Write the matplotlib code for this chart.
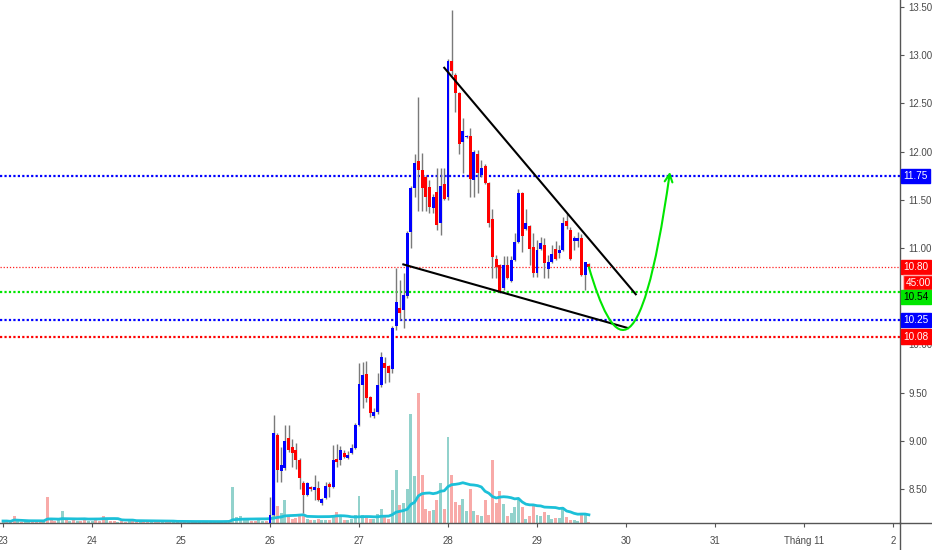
import matplotlib
matplotlib.use('Agg')
import matplotlib.pyplot as plt
import numpy as np
import pandas as pd
from matplotlib.path import Path
from matplotlib.patches import FancyArrowPatch

plt.rcParams['font.family'] = ['Liberation Sans', 'DejaVu Sans']

# hourly candles from day 26 on
opens = [8.14, 8.23, 9.06, 8.69, 8.72, 9.03, 8.94, 8.90, 8.80, 8.56,
         8.44, 8.52, 8.49, 8.51, 8.35, 8.41, 8.55, 8.52, 8.81, 8.80,
         8.87, 8.82, 8.87, 8.92, 9.16, 9.58, 9.69, 9.45, 9.26, 9.30,
         9.58, 9.81, 9.78, 9.74, 10.19, 10.38, 10.36, 10.50, 11.17, 11.62,
         11.90, 11.81, 11.74, 11.63, 11.41, 11.58, 11.26, 11.66, 11.53, 12.94,
         12.80, 12.61, 12.10, 12.15, 12.16, 11.71, 11.98, 11.76, 11.85, 11.67,
         11.30, 10.89, 10.82, 10.59, 10.82, 10.66, 10.88, 11.06, 11.57, 11.20,
         11.23, 11.01, 10.74, 10.99, 11.03, 10.78, 10.85, 10.99, 10.95, 10.98,
         11.28, 11.19, 11.07, 11.07, 11.10, 10.72, 10.83]
closes = [8.23, 9.08, 8.70, 8.75, 9.00, 8.90, 8.87, 8.80, 8.61, 8.44,
          8.56, 8.50, 8.52, 8.39, 8.40, 8.53, 8.52, 8.80, 8.78, 8.90,
          8.83, 8.85, 8.92, 9.16, 9.59, 9.68, 9.44, 9.29, 9.30, 9.58,
          9.87, 9.75, 9.70, 10.17, 10.44, 10.33, 10.51, 11.16, 11.62, 11.88,
          11.81, 11.62, 11.53, 11.43, 11.53, 11.24, 11.64, 11.51, 12.94, 12.84,
          12.61, 12.08, 12.21, 12.16, 11.72, 12.00, 11.78, 11.83, 11.67, 11.26,
          10.91, 10.80, 10.54, 10.82, 10.69, 10.88, 11.06, 11.57, 11.12, 11.26,
          10.99, 10.74, 10.98, 11.05, 10.84, 10.85, 10.94, 10.89, 10.98, 11.26,
          11.23, 10.89, 11.10, 11.10, 10.72, 10.85, 10.80]
highs = [8.42, 9.27, 9.08, 8.94, 9.16, 9.16, 9.02, 8.98, 8.82, 8.58,
         8.57, 8.53, 8.64, 8.58, 8.41, 8.57, 8.57, 8.96, 8.97, 8.95,
         8.90, 8.89, 8.97, 9.18, 9.81, 9.82, 9.83, 9.46, 9.34, 9.70,
         9.92, 9.87, 9.79, 10.19, 10.79, 10.67, 10.74, 11.18, 11.64, 11.98,
         12.57, 11.99, 11.76, 11.71, 11.56, 11.83, 11.83, 11.83, 12.96, 13.47,
         12.82, 12.62, 12.35, 12.17, 12.25, 12.02, 12.02, 11.91, 11.87, 11.68,
         11.40, 10.93, 10.83, 10.92, 10.92, 10.92, 11.16, 11.61, 11.58, 11.40,
         11.24, 11.16, 11.08, 11.11, 11.10, 10.93, 11.03, 11.07, 11.03, 11.32,
         11.36, 11.22, 11.12, 11.17, 11.15, 10.86, 10.84]
lows = [8.10, 8.22, 8.57, 8.57, 8.70, 8.88, 8.73, 8.71, 8.50, 8.25,
        8.43, 8.48, 8.39, 8.38, 8.33, 8.40, 8.42, 8.51, 8.73, 8.75,
        8.82, 8.81, 8.86, 8.91, 9.15, 9.34, 9.40, 9.25, 9.24, 9.28,
        9.56, 9.60, 9.61, 9.70, 10.15, 10.25, 10.17, 10.48, 11.00, 11.53,
        11.38, 11.38, 11.38, 11.36, 11.36, 11.19, 11.13, 11.50, 11.50, 12.80,
        12.41, 11.98, 11.78, 12.14, 11.53, 11.53, 11.57, 11.74, 11.66, 11.22,
        10.69, 10.69, 10.53, 10.56, 10.68, 10.65, 10.87, 11.05, 10.96, 11.19,
        10.82, 10.70, 10.70, 10.98, 10.69, 10.69, 10.84, 10.88, 10.90, 10.97,
        11.20, 10.88, 10.98, 11.01, 10.71, 10.56, 10.79]
cand_vol = [6, 10, 17, 10, 23, 6, 4, 5, 8, 9,
            4, 3, 3, 4, 3, 3, 3, 8, 11, 6,
            3, 3, 4, 8, 27, 8, 6, 4, 4, 9,
            14, 6, 4, 33, 53, 18, 20, 34, 109, 47,
            130, 48, 14, 12, 13, 23, 40, 14, 86, 48,
            21, 18, 24, 12, 34, 12, 8, 7, 23, 8,
            63, 20, 32, 19, 7, 10, 16, 23, 16, 4,
            7, 17, 8, 7, 11, 8, 4, 5, 5, 14,
            6, 3, 3, 2, 10, 10, 1]
# volume from day 23 to 26 (no visible candles)
pre_vol = [2, 2, 1, 7, 2, 1, 2, 1, 2, 2, 1, 3,
           26, 5, 2, 3, 12, 3, 2, 3, 2, 2, 3, 2,
           2, 3, 2, 7, 3, 2, 2, 1, 2, 1, 2, 2,
           1, 2, 1, 2, 2, 1, 2, 1, 1, 2, 1, 2,
           2, 1, 1, 2, 1, 2, 1, 1, 2, 1, 2, 1,
           2, 3, 36, 6, 7, 4, 3, 2, 2, 3, 2, 2]
pre_dir = ("uddduduudddu" "ddduudududdu" "udddudduddud"
           "duddudduddud" "ddudduduudud" "dduuuuudduud")

levels = [11.75, 10.54, 10.25, 10.08]
level_colors = ['#0000ff', '#00e600', '#0000ff', '#ff0000']
last_price = 10.80

# wedge lines (day, price)
upper_line = ([27.958, 30.11], [12.87, 10.52])
lower_line = ([27.498, 30.02], [10.83, 10.17])
# projected path: control points after the last candle, then the arrow tip
proj_days = [29.843, 30.157, 30.494]
proj_prices = [9.99, 9.58, 11.79]

day_ticks = list(range(23, 34))
day_labels = ['23', '24', '25', '26', '27', '28', '29', '30', '31', 'Tháng 11', '2']
price_ticks = [8.5, 9.0, 9.5, 10.0, 10.5, 11.0, 11.5, 12.0, 12.5, 13.0, 13.5]

n = len(opens)
t = 26 + np.arange(n) / 24
t_pre = 23 + np.arange(len(pre_vol)) / 24
o = np.array(opens); c = np.array(closes)
up = c >= o

fig = plt.figure(figsize=(9.32, 5.5), dpi=100)
ax = fig.add_axes([0, 27 / 550, 900 / 932, 523 / 550])
ax2 = ax.twinx()
ax.set_zorder(ax2.get_zorder() + 1)
ax.patch.set_visible(False)

# volume
vol = np.array(pre_vol + cand_vol, dtype=float)
tv = np.concatenate([t_pre, t])
vdir = [d == 'u' for d in pre_dir] + list(up)
vcol = ['#92d2cc' if d else '#f8aaa8' for d in vdir]
w = 0.8 / 24
ax2.bar(tv, vol, width=w, color=vcol, linewidth=0)
ma = pd.Series(vol).rolling(20, min_periods=1).mean()
ax2.plot(tv, ma, color='#1cc0d8', lw=2)
ax2.set_ylim(0, vol.max() * 4.02)
ax2.axis('off')

# candles
ax.vlines(t, lows, highs, color='#7a7a7a', lw=1, zorder=2)
body = np.maximum(np.abs(c - o), 0.01)
ax.bar(t, body, bottom=np.minimum(o, c), width=w,
       color=np.where(up, '#0000ff', '#ff0000'), linewidth=0, zorder=3)

# levels
for lv, col in zip(levels, level_colors):
    ax.axhline(lv, color=col, lw=1.6, ls=(0, (1, 1)), zorder=1)
ax.axhline(last_price, color='#ff2020', lw=0.9, ls=(0, (1, 1.5)), zorder=1)

ax.plot(*upper_line, color='black', lw=1.5, zorder=4)
ax.plot(*lower_line, color='black', lw=1.5, zorder=4)

verts = [(t[-1], closes[-1])] + list(zip(proj_days, proj_prices))
path = Path(verts, [Path.MOVETO, Path.CURVE4, Path.CURVE4, Path.CURVE4])
arrow = FancyArrowPatch(path=path, arrowstyle='->', mutation_scale=14,
                        color='#00e600', lw=1.5, shrinkA=0, shrinkB=0, zorder=5)
ax.add_patch(arrow)

ax.set_xlim(22.966, 33.079)
ax.set_ylim(8.147, 13.573)

ax.yaxis.tick_right()
ax.set_yticks(price_ticks)
ax.set_yticklabels(['%.2f' % p for p in price_ticks])
ax.set_xticks(day_ticks)
ax.set_xticklabels(day_labels)
ax.tick_params(axis='y', length=3, color='#555555', labelsize=7,
               labelcolor='#4a4a4a', pad=3)
ax.tick_params(axis='x', length=3, color='#555555', labelsize=7,
               labelcolor='#4a4a4a', pad=6)
for s in ['top', 'left']:
    ax.spines[s].set_visible(False)
for s in ['right', 'bottom']:
    ax.spines[s].set_color('#555555')
    ax.spines[s].set_linewidth(1)

fig.add_artist(plt.Line2D([900 / 932, 900 / 932], [0, 27 / 550], color='#555555', lw=1))
fig.add_artist(plt.Line2D([900 / 932, 1], [27 / 550, 27 / 550], color='#555555', lw=1))


def price_tag(val, text, bg, fg, dy=0, dx=2.5, edge=None):
    ax.annotate(text, xy=(1, val), xycoords=('axes fraction', 'data'),
                xytext=(dx, dy), textcoords='offset points', ha='left', va='center',
                fontsize=7.2, color=fg, annotation_clip=False, zorder=10,
                bbox=dict(boxstyle='square,pad=0.22', fc=bg, ec=edge or bg))


price_tag(11.75, '11.75', '#0000ff', 'white')
price_tag(last_price, '10.80', '#ff0000', 'white')
price_tag(last_price, '45:00', '#ff0000', 'white', dy=-11, dx=4, edge='#ffb0b0')
price_tag(10.54, '10.54', '#00e600', 'black', dy=-3.5)
price_tag(10.25, '10.25', '#0000ff', 'white')
price_tag(10.08, '10.08', '#ff0000', 'white')

fig.savefig('out.png', dpi=100, facecolor='white')
